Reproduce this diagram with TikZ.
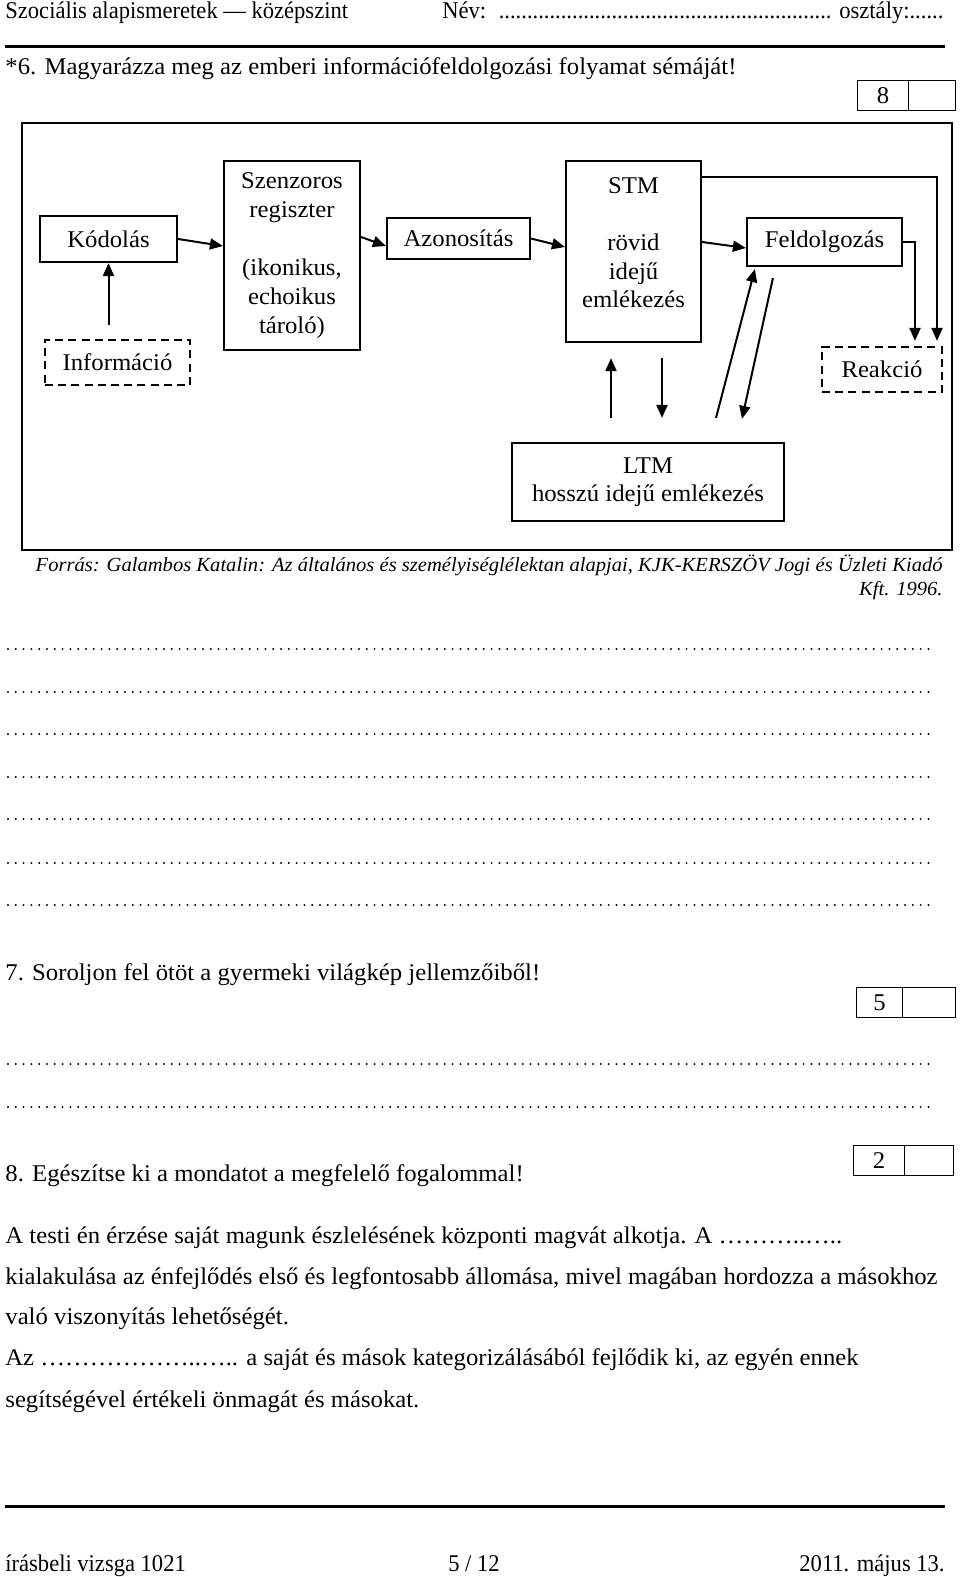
\documentclass[tikz,border=0pt]{standalone}
\usepackage{fontspec}
\setmainfont{Liberation Serif}[FakeStretch=1.03]
\newfontfamily\hdfont{Liberation Serif}[FakeStretch=0.94]
\usetikzlibrary{arrows.meta,calc}
\tikzset{
  txt/.style={anchor=base west, inner sep=0pt, font=\fontsize{12}{14.5}\selectfont},
  hdt/.style={inner sep=0pt, font=\hdfont\fontsize{12}{14.5}\selectfont},
  boxn/.style={draw, line width=1.1pt, inner sep=0pt, align=center, font=\fontsize{12}{14.5}\selectfont},
  dbox/.style={boxn, dash pattern=on 4pt off 2.6pt},
  arr/.style={line width=1pt, -{Triangle[length=6.5pt,width=5.5pt]}},
  dotline/.style={line width=1.1pt, dash pattern=on 0pt off 3.9pt, line cap=round},
  score/.style={draw, line width=0.6pt, inner sep=0pt, minimum height=15pt, font=\fontsize{12}{14.5}\selectfont},
  rule/.style={line width=1.5pt}
}
\begin{document}
\begin{tikzpicture}[x=0.5pt,y=-0.5pt]
\useasboundingbox (0,0) rectangle (960,1577);
% header
\node[hdt, anchor=base west] (hdl) at (5,19) {Szociális alapismeretek — középszint};
\node[hdt, anchor=base west] (hdr) at (442,19) {\makebox[250.5pt][l]{Név: \leaders\hbox{.}\hfill\ osztály:......}};
\draw[rule] (5,47) -- (945,47);
\node[txt] (q6) at (5,75) {*6. Magyarázza meg az emberi információfeldolgozási folyamat sémáját!};
\node[score, minimum width=25.5pt, anchor=north west] (s8a) at (857,80) {8};
\node[score, minimum width=23.5pt, anchor=north west] (s8b) at (908,80) {};
% frame
\node[draw, line width=0.8pt, minimum width=465pt, minimum height=213.5pt, inner sep=0pt] (frame) at (487,336.5) {};
% boxes
\node[boxn, minimum width=68.5pt, minimum height=23pt] (kod) at (108.5,239) {Kódolás};
\node[dbox, minimum width=72.5pt, minimum height=22.5pt] (info) at (117.5,362.5) {Információ};
\node[boxn, minimum width=68pt, minimum height=94.5pt] (szen) at (292,255.5) {Szenzoros\\regiszter\\[14.5pt](ikonikus,\\echoikus\\tároló)};
\node[boxn, minimum width=71.5pt, minimum height=20.5pt] (azon) at (458.5,238.5) {Azonosítás};
\node[boxn, minimum width=67.5pt, minimum height=90.5pt] (stm) at (633.5,251.5) {};
\node[align=center, inner sep=0pt, font=\fontsize{12}{14.25}\selectfont] (stmtxt) at (633.5,243) {STM\\[14.25pt]rövid\\idejű\\emlékezés};
\node[boxn, minimum width=77.5pt, minimum height=24pt] (feld) at (824.5,242) {Feldolgozás};
\node[dbox, minimum width=60pt, minimum height=22.5pt] (reak) at (882,369.5) {Reakció};
\node[boxn, minimum width=136pt, minimum height=39pt, font=\fontsize{12}{14}\selectfont] (ltm) at (648,482) {LTM\\hosszú idejű emlékezés};
% connectors
\draw[arr] (kod.east) -- ([yshift=4.75pt]szen.west);
\draw[arr] ([yshift=9.25pt]szen.east) -- ([yshift=-3.75pt]azon.west);
\draw[arr] (azon.east) -- ([yshift=2.25pt]stm.west);
\draw[arr] ([yshift=4.75pt]stm.east) -- ([yshift=-3pt]feld.west);
\draw[arr, shorten >=2.5pt] ([yshift=37pt]stm.east) -| ([xshift=27.5pt]reak.north);
\draw[arr, shorten >=2.5pt] (feld.east) -| ([xshift=16.5pt]reak.north);
\coordinate (infotop) at ($(info.north -| kod.south)+(0,-14)$);
\draw[arr] (infotop) -- (kod.south);
\draw[arr] ($(ltm.north)+(-37,-24)$) -- ($(stm.south)+(-22.5,15)$);
\draw[arr] ($(stm.south)+(28.5,15)$) -- ($(ltm.north)+(14,-24)$);
\draw[arr] ($(ltm.north)+(68,-24)$) -- ($(feld.south west)+(9,2)$);
\draw[arr] ($(feld.south west)+(27,11)$) -- ($(ltm.north)+(94,-23)$);
% source
\node[anchor=base east, inner sep=0pt, font=\fontsize{10}{12}\selectfont\itshape] (src1) at (943,571) {Forrás: Galambos Katalin: Az általános és személyiséglélektan alapjai, KJK-KERSZÖV Jogi és Üzleti Kiadó};
\node[anchor=base east, inner sep=0pt, font=\fontsize{10}{12}\selectfont\itshape] (src2) at (943,595) {Kft. 1996.};
% dotted answer lines
\foreach \yy in {649,692,734,777,819,863,905,1064,1107} {\draw[dotline] (8,\yy) -- (930,\yy);}
% Q7
\node[txt] (q7) at (5,980) {7. Soroljon fel ötöt a gyermeki világkép jellemzőiből!};
\node[score, minimum width=23pt, anchor=north west] (s5a) at (856,987) {5};
\node[score, minimum width=26.5pt, anchor=north west] (s5b) at (902,987) {};
% Q8
\node[txt] (q8) at (5,1181) {8. Egészítse ki a mondatot a megfelelő fogalommal!};
\node[score, minimum width=25.5pt, anchor=north west] (s2a) at (853,1145) {2};
\node[score, minimum width=24.5pt, anchor=north west] (s2b) at (904,1145) {};
\node[txt] (p1) at (5,1243) {A testi én érzése saját magunk észlelésének központi magvát alkotja. A ………..…..};
\node[txt] (p2) at (5,1284) {kialakulása az énfejlődés első és legfontosabb állomása, mivel magában hordozza a másokhoz};
\node[txt] (p3) at (5,1324) {való viszonyítás lehetőségét.};
\node[txt] (p4) at (5,1365) {Az ………………..….. a saját és mások kategorizálásából fejlődik ki, az egyén ennek};
\node[txt] (p5) at (5,1407) {segítségével értékeli önmagát és másokat.};
% footer
\draw[rule] (5,1506) -- (945,1506);
\node[hdt, anchor=base west] (f1) at (5,1571) {írásbeli vizsga 1021};
\node[hdt, anchor=base] (f2) at (474,1571) {5 / 12};
\node[hdt, anchor=base east] (f3) at (945,1571) {2011. május 13.};
\end{tikzpicture}
\end{document}
